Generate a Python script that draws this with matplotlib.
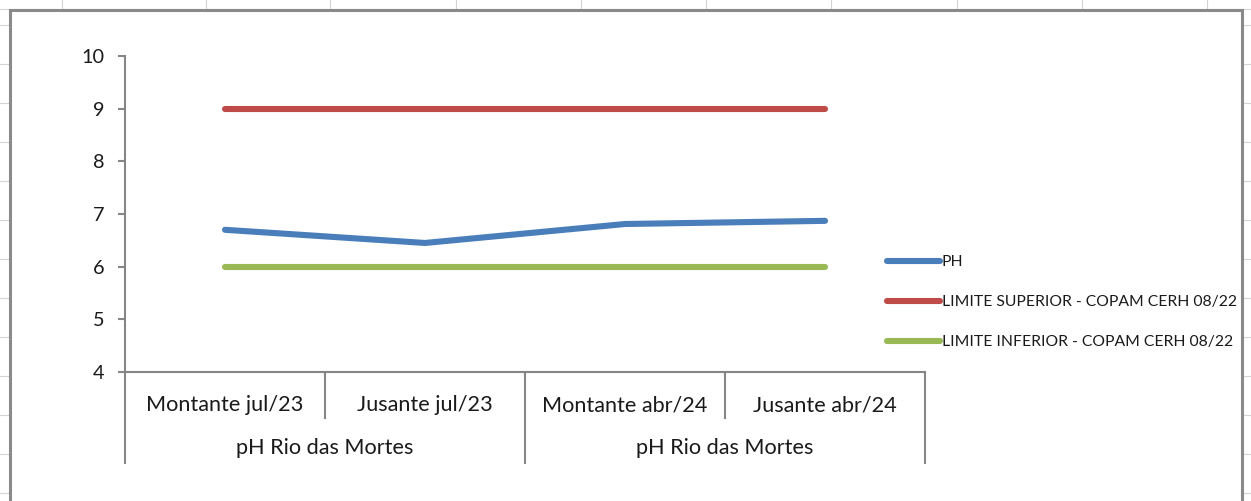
import matplotlib
matplotlib.use("Agg")
import matplotlib.pyplot as plt
import matplotlib.transforms as mtransforms

plt.rcParams['font.family'] = ['Lato', 'DejaVu Sans']

# ---- data ----
categories = ["Montante jul/23", "Jusante jul/23", "Montante abr/24", "Jusante abr/24"]
groups = ["pH Rio das Mortes", "pH Rio das Mortes"]
group_sizes = [2, 2]
ph_values = [6.70, 6.45, 6.81, 6.87]
limite_superior = [9, 9, 9, 9]
limite_inferior = [6, 6, 6, 6]
series_names = ["PH", "LIMITE SUPERIOR - COPAM CERH 08/22", "LIMITE INFERIOR - COPAM CERH 08/22"]
yticks = [4, 5, 6, 7, 8, 9, 10]

W, H = 1251, 501
fig = plt.figure(figsize=(W / 100, H / 100), dpi=100)

# background "spreadsheet" + chart frame (pixel coordinates)
bg = fig.add_axes([0, 0, 1, 1])
bg.set_xlim(0, W)
bg.set_ylim(H, 0)
bg.axis('off')
grid_c = '#d4d4d4'
for gx in [62, 206, 330, 456, 581, 706, 831, 957, 1082, 1207]:
    bg.plot([gx, gx], [0, 9], color=grid_c, lw=0.8)
for gy in [25, 64, 103, 142, 181, 220, 259, 298, 337, 376, 415, 454, 493]:
    bg.plot([0, 9], [gy, gy], color=grid_c, lw=0.8)
    bg.plot([1243, W], [gy, gy], color=grid_c, lw=0.8)
bg.plot([0, W], [9, 9], color=grid_c, lw=0.8)
frame_c = '#8a8a8a'
bg.plot([10, 10, 1242, 1242], [H + 5, 10, 10, H + 5], color=frame_c, lw=2.2,
        solid_joinstyle='miter')

# main plot area
x0, x1, ytop, ybot = 125, 925, 56, 372
ax = fig.add_axes([x0 / W, 1 - ybot / H, (x1 - x0) / W, (ybot - ytop) / H])
ax.patch.set_alpha(0)
xs = list(range(len(categories)))

c_blue, c_red, c_green = '#4a7ebb', '#be4b48', '#98b954'
lw = 4.4
ax.plot(xs, ph_values, color=c_blue, lw=lw, solid_capstyle='round',
        solid_joinstyle='round', label=series_names[0])
ax.plot(xs, limite_superior, color=c_red, lw=lw, solid_capstyle='round',
        label=series_names[1])
ax.plot(xs, limite_inferior, color=c_green, lw=lw, solid_capstyle='round',
        label=series_names[2])

ax.set_xlim(-0.5, len(categories) - 0.5)
ax.set_ylim(min(yticks), max(yticks))
ax.set_yticks(yticks)
ax.set_xticks([])
axis_c = '#868686'
for s in ['top', 'right']:
    ax.spines[s].set_visible(False)
for s in ['left', 'bottom']:
    ax.spines[s].set_color(axis_c)
    ax.spines[s].set_linewidth(1.5)
ax.tick_params(axis='y', direction='out', length=5, width=1.5, color=axis_c,
               pad=10, labelsize=14.3, labelcolor='#1a1a1a')

# multi-level category axis
trans = mtransforms.blended_transform_factory(ax.transData, ax.transAxes)
lvl1_bottom = -(418 - ybot) / (ybot - ytop)
lvl2_bottom = -(463 - ybot) / (ybot - ytop)
lvl1_text = -(405 - ybot) / (ybot - ytop)
lvl2_text = -(448 - ybot) / (ybot - ytop)
cat_fs = 15.6
for i, cat in enumerate(categories):
    ax.text(i, lvl1_text, cat, transform=trans, ha='center', va='center',
            fontsize=cat_fs, color='#1a1a1a')
# dividers
bounds = [b - 0.5 for b in range(len(categories) + 1)]
group_edges = [-0.5]
for gsz in group_sizes:
    group_edges.append(group_edges[-1] + gsz)
for b in bounds:
    yb = lvl2_bottom if b in group_edges else lvl1_bottom
    ax.plot([b, b], [0, yb], transform=trans, color=axis_c, lw=1.5, clip_on=False)
for g, name in enumerate(groups):
    cx = (group_edges[g] + group_edges[g + 1]) / 2
    ax.text(cx, lvl2_text, name, transform=trans, ha='center', va='center',
            fontsize=cat_fs, color='#1a1a1a')

# legend
fs = 11.3
leg = ax.legend(loc='upper left', bbox_to_anchor=(887 / W, 1 - 255 / H),
                bbox_transform=fig.transFigure, frameon=False, fontsize=fs,
                handlelength=53 / (fs / 0.72), handletextpad=0.12,
                labelspacing=1.66, borderpad=0, borderaxespad=0)
for t in leg.get_texts():
    t.set_color('#1a1a1a')

fig.savefig('out.png', dpi=100)
